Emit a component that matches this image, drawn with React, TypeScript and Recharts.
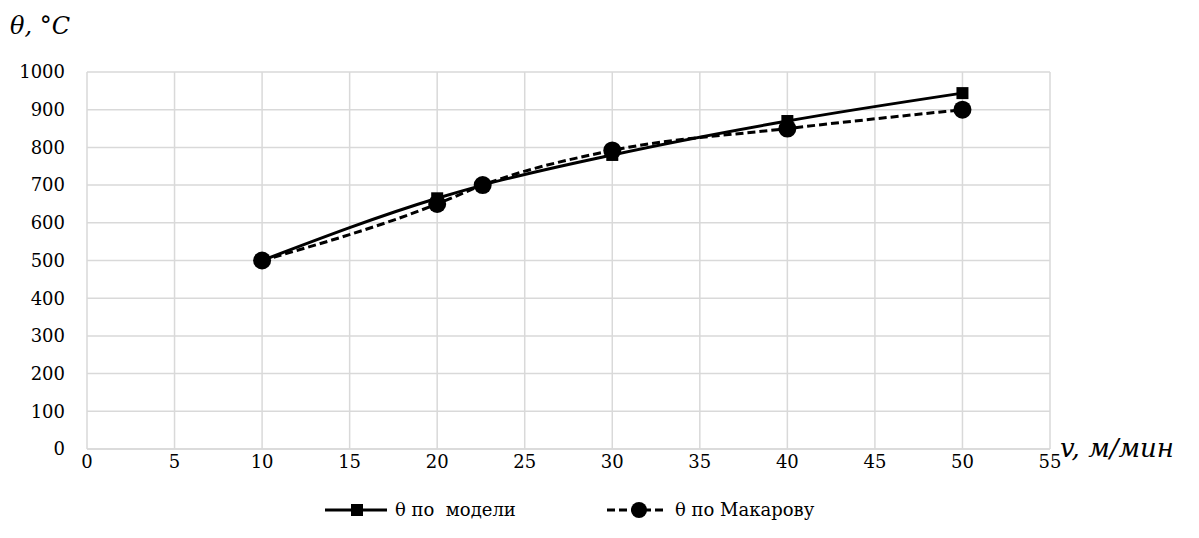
import { LineChart, Line, XAxis, YAxis, CartesianGrid, Legend } from 'recharts'

const speedModel = [10, 20, 22.6, 30, 40, 50]
const tempModel = [500, 665, 700, 780, 870, 944]

const speedMakarov = [10, 20, 22.6, 30, 40, 50]
const tempMakarov = [500, 650, 700, 792, 850, 900]

const xTicks = [0, 5, 10, 15, 20, 25, 30, 35, 40, 45, 50, 55]
const yTicks = [0, 100, 200, 300, 400, 500, 600, 700, 800, 900, 1000]

const modelData = speedModel.map((x, i) => ({ x, y: tempModel[i] }))
const makarovData = speedMakarov.map((x, i) => ({ x, y: tempMakarov[i] }))

const FONT = "'DejaVu Serif', 'Liberation Serif', 'Times New Roman', serif"
const tickStyle = { fontSize: 18, fill: '#000', fontFamily: FONT }

function SquareDot(props: any) {
  const { cx, cy, index } = props
  if (cx == null || cy == null) return null
  return <rect key={`sq-${index}`} x={cx - 6} y={cy - 6} width={12} height={12} fill="#000" />
}

function CircleDot(props: any) {
  const { cx, cy, index } = props
  if (cx == null || cy == null) return null
  return <circle key={`ci-${index}`} cx={cx} cy={cy} r={9} fill="#000" />
}

function LegendContent() {
  return (
    <div style={{ display: 'flex', alignItems: 'center', fontFamily: FONT, fontSize: 18, color: '#000', paddingTop: 10, paddingLeft: 325 }}>
      <svg width={62} height={20} style={{ marginRight: 8 }}>
        <line x1={0} y1={10} x2={62} y2={10} stroke="#000" strokeWidth={3} />
        <rect x={26} y={4} width={12} height={12} fill="#000" />
      </svg>
      <span style={{ whiteSpace: 'pre', width: 212, display: 'inline-block' }}>θ по  модели</span>
      <svg width={58} height={20} style={{ marginRight: 10 }}>
        <line x1={0} y1={10} x2={58} y2={10} stroke="#000" strokeWidth={3} strokeDasharray="8 4" />
        <circle cx={32} cy={10} r={8} fill="#000" />
      </svg>
      <span>θ по Макарову</span>
    </div>
  )
}

export default function App() {
  return (
    <div style={{ position: 'absolute', left: 0, top: 0, width: 1199, height: 538, background: '#fff' }}>
      <LineChart width={1199} height={538} margin={{ top: 72, right: 149, bottom: 10, left: 0 }}>
        <CartesianGrid stroke="#d9d9d9" strokeWidth={1.5} />
        <XAxis
          type="number"
          dataKey="x"
          domain={[0, 55]}
          ticks={xTicks}
          interval={0}
          tick={tickStyle}
          tickLine={false}
          axisLine={{ stroke: '#d9d9d9', strokeWidth: 1.5 }}
          tickSize={0}
          tickMargin={6}
          height={40}
          allowDuplicatedCategory={false}
        />
        <YAxis
          type="number"
          domain={[0, 1000]}
          ticks={yTicks}
          interval={0}
          tick={tickStyle}
          tickLine={false}
          axisLine={false}
          tickSize={0}
          tickMargin={22}
          width={87}
        />
        <Legend verticalAlign="bottom" height={39} content={<LegendContent />} />
        <Line
          data={modelData}
          dataKey="y"
          type="monotone"
          stroke="#000"
          strokeWidth={3}
          dot={<SquareDot />}
          activeDot={false}
          isAnimationActive={false}
        />
        <Line
          data={makarovData}
          dataKey="y"
          type="monotone"
          stroke="#000"
          strokeWidth={3}
          strokeDasharray="8 4"
          dot={<CircleDot />}
          activeDot={false}
          isAnimationActive={false}
        />
      </LineChart>
      <div style={{ position: 'absolute', left: 10, top: 12, fontFamily: FONT, fontStyle: 'italic', fontSize: 24, color: '#000' }}>
        θ, °C
      </div>
      <div style={{ position: 'absolute', left: 1060, top: 433, fontFamily: FONT, fontStyle: 'italic', fontSize: 26, color: '#000' }}>
        v, м/мин
      </div>
    </div>
  )
}
